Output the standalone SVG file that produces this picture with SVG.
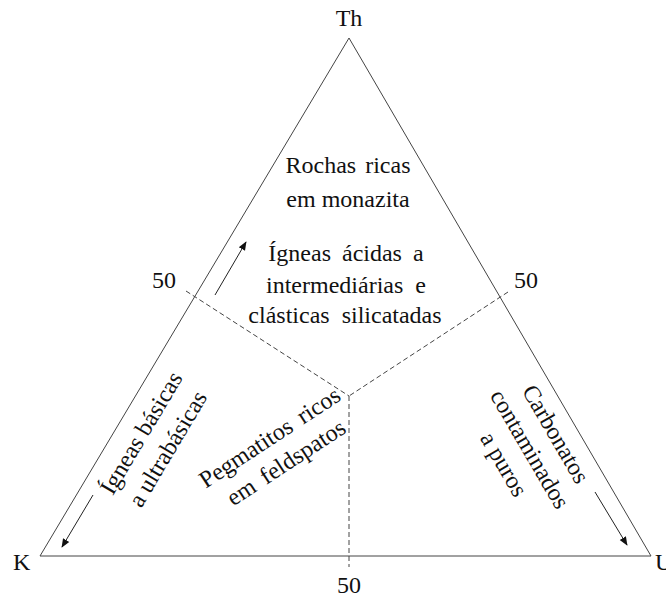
<svg xmlns="http://www.w3.org/2000/svg" width="666" height="598" viewBox="0 0 666 598">
<defs>
<style>
text{font-family:"Liberation Serif","Times New Roman",serif;font-size:24px;fill:#111}
.c{text-anchor:middle}
.tri{fill:none;stroke:#444;stroke-width:1}
.dash{fill:none;stroke:#444;stroke-width:1;stroke-dasharray:5,3}
.arr{fill:none;stroke:#222;stroke-width:1;marker-end:url(#ah)}
</style>
<marker id="ah" viewBox="0 0 10 10" refX="9" refY="5" markerWidth="9" markerHeight="9" markerUnits="userSpaceOnUse" orient="auto">
<path d="M0,1 L10,5 L0,9 Z" fill="#111"/>
</marker>
</defs>
<rect width="666" height="598" fill="#fff"/>
<g id="triangle"><polygon class="tri" points="349,38 40,556 651,556"/></g>
<g id="connectors">
<line class="dash" x1="186" y1="291" x2="349" y2="396"/>
<line class="dash" x1="508" y1="292" x2="349" y2="396"/>
<line class="dash" x1="349" y1="396" x2="349" y2="567"/>
<line class="arr" x1="215" y1="295" x2="246" y2="242"/>
<line class="arr" x1="93" y1="495" x2="62" y2="547"/>
<line class="arr" x1="595" y1="492" x2="627" y2="545"/>
</g>
<g id="vertex-Th"><text class="c" x="349" y="26">Th</text></g>
<g id="vertex-K"><text x="13" y="570">K</text></g>
<g id="vertex-U"><text x="655" y="570">U</text></g>
<g id="tick-left"><text class="c" x="164" y="288">50</text></g>
<g id="tick-right"><text class="c" x="526" y="288">50</text></g>
<g id="tick-bottom"><text class="c" x="349" y="593">50</text></g>
<g id="region-top">
<text class="c" x="348" y="173" style="word-spacing:3px">Rochas ricas</text>
<text class="c" x="348" y="207">em monazita</text>
<text class="c" x="346" y="261" style="word-spacing:5px">Ígneas ácidas a</text>
<text class="c" x="346" y="293" style="word-spacing:6px">intermediárias e</text>
<text class="c" x="345" y="323" style="word-spacing:6px">clásticas silicatadas</text>
</g>
<g id="region-left">
<text class="c" transform="translate(148,437) rotate(-59.2)"><tspan x="0" y="0">Ígneas básicas</tspan><tspan x="0" y="31">a ultrabásicas</tspan></text>
</g>
<g id="region-right">
<text class="c" transform="translate(549,438) rotate(59.75)"><tspan x="0" y="0">Carbonatos</tspan><tspan x="0" y="30">contaminados</tspan><tspan x="0" y="60">a puros</tspan></text>
</g>
<g id="region-bottom">
<text class="c" transform="translate(274,444) rotate(-33.3)" style="word-spacing:4px"><tspan x="0" y="0">Pegmatitos ricos</tspan><tspan x="0" y="30">em feldspatos</tspan></text>
</g>
</svg>
